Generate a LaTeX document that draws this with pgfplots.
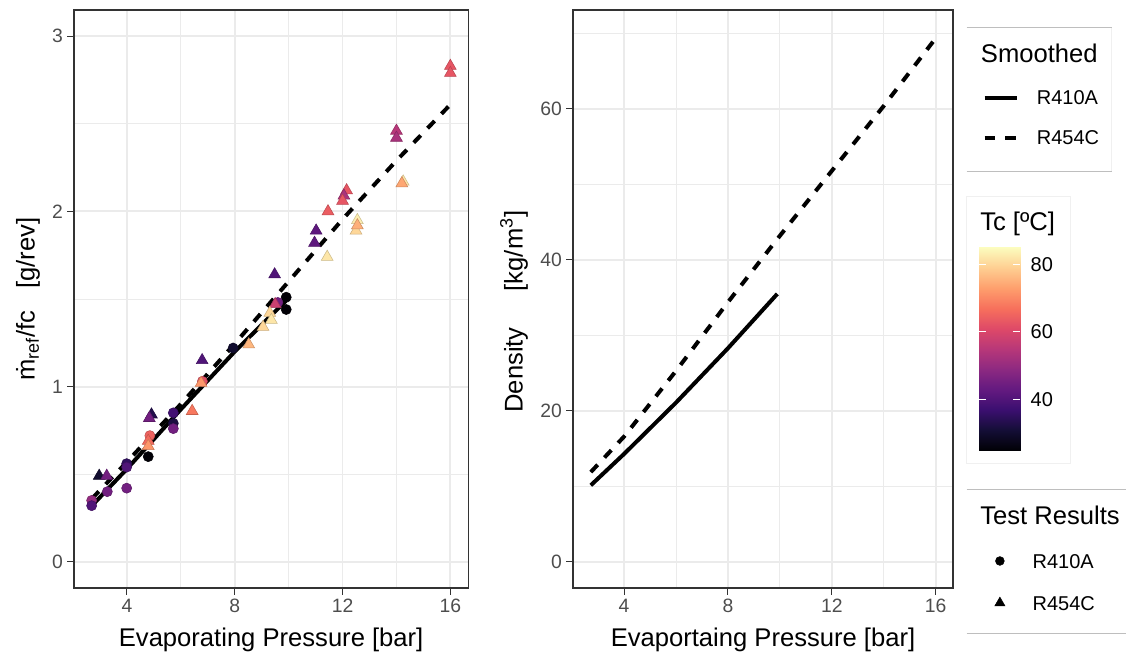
\documentclass[border=0pt]{standalone}
\usepackage{pgfplots}
\pgfplotsset{compat=1.18}
\usepackage{fontspec}
\setmainfont{Liberation Sans}
\definecolor{gridc}{RGB}{235,235,235}
\definecolor{gray20}{RGB}{51,51,51}
\definecolor{gray30}{RGB}{77,77,77}
\definecolor{boxc}{RGB}{240,240,240}
\definecolor{sepc}{RGB}{190,190,190}
\pgfplotsset{
  colormap={magma}{rgb255=(0,0,4) rgb255=(20,14,54) rgb255=(59,15,112) rgb255=(100,26,128) rgb255=(140,41,129) rgb255=(183,55,121) rgb255=(222,73,104) rgb255=(247,112,92) rgb255=(254,159,109) rgb255=(254,207,146) rgb255=(252,253,191)},
  ggpanel/.style={
    scale only axis, height=433.5pt,
    xmin=2.035, xmax=16.665,
    xtick={4,8,12,16}, minor xtick={2,6,10,14},
    grid=both,
    major grid style={gridc, line width=1.4pt},
    minor grid style={gridc, line width=0.7pt},
    axis line style={gray20, line width=0.8pt},
    tick style={gray20, line width=0.8pt},
    major tick length=4.9pt, minor tick length=0pt,
    tick align=outside, tick pos=left,
    ticklabel style={font=\fontsize{14.5}{17}\selectfont, text=gray30},
    /pgf/number format/assume math mode=true,
    label style={font=\fontsize{19.2}{23}\selectfont},
    xlabel style={at={(axis description cs:0.5,-0.09)}, anchor=center},
    colormap name=magma,
    point meta min=24.8, point meta max=85,
  }
}
\pgfplotstableread{
x y tc
9.91 1.51 25
9.91 1.44 25
9.60 1.48 45
7.94 1.22 30
6.80 1.03 62
5.72 0.85 38
5.72 0.79 32
5.72 0.76 45
4.85 0.72 65
4.79 0.60 25
3.99 0.56 35
3.99 0.54 40
3.99 0.42 45
3.27 0.40 45
2.69 0.35 50
2.69 0.32 40
}\circdata
\pgfplotstableread{
x y tc
16.00 2.83 63
16.00 2.79 63
14.00 2.46 55
14.00 2.42 53
14.25 2.17 82
14.20 2.16 74
12.15 2.12 63
12.05 2.09 53
12.00 2.06 63
11.46 2.00 64
11.02 1.89 42
10.96 1.82 42
11.43 1.74 82
12.55 1.95 83
12.50 1.89 80
12.55 1.92 75
9.48 1.64 40
9.50 1.47 58
9.30 1.42 80
9.36 1.38 82
9.05 1.34 80
8.52 1.24 76
6.79 1.15 40
6.75 1.02 72
6.42 0.86 68
4.91 0.84 33
4.83 0.82 45
4.79 0.69 66
4.79 0.66 72
2.97 0.49 30
3.25 0.49 45
}\tridata
\begin{document}
\begin{tikzpicture}
\useasboundingbox (0,0) rectangle (844.5pt,491.25pt);
% ---------- left panel ----------
\begin{axis}[ggpanel,
  at={(55.5pt,50.25pt)}, anchor=south west, width=295.7pt,
  ymin=-0.15, ymax=3.15,
  ytick={0,1,2,3}, minor ytick={0.5,1.5,2.5},
  xlabel={Evaporating Pressure [bar]},
  ylabel={ṁ\textsubscript{ref}/fc\hspace{16.5pt}[g/rev]},
  ylabel style={at={(axis description cs:-0.1167,0.5)}, anchor=center},
  legend style={at={(axis description cs:2.3355,0.0104)}, anchor=west, draw=none, fill=none,
    inner sep=0pt, outer sep=0pt, row sep=20.5pt, column sep=20.7pt,
    font=\fontsize{15}{18}\selectfont,
    nodes={inner sep=0pt, text height=11pt, text depth=0pt}},
  legend cell align=left,
  legend image code/.code={\draw[#1] plot coordinates {(0pt,0pt)};},
]
\addplot[scatter, only marks, mark=*, mark size=3.8pt, scatter src=explicit, forget plot]
  table[x=x, y=y, meta=tc] {\circdata};
\addplot[scatter, only marks, mark=triangle*, mark size=5.1pt, scatter src=explicit, forget plot]
  table[x=x, y=y, meta=tc] {\tridata};
\addplot[black, line width=3pt, forget plot] coordinates {
  (2.7,0.32) (4,0.53) (6,0.87) (8,1.20) (9.9,1.49)};
\addplot[black, line width=3pt, dash pattern=on 7.5pt off 7.5pt, forget plot] coordinates {
  (2.7,0.36) (4,0.57) (6,0.90) (8,1.245) (10,1.60) (12,1.955) (14,2.29) (16,2.61)};
\addlegendimage{only marks, mark=*, mark size=3.3pt, black}
\addlegendentry{R410A}
\addlegendimage{only marks, mark=triangle*, mark size=4.4pt, black}
\addlegendentry{R454C}
\end{axis}
% ---------- right panel ----------
\begin{axis}[ggpanel,
  at={(429.75pt,50.25pt)}, anchor=south west, width=285pt,
  ymin=-3.45, ymax=73.1,
  ytick={0,20,40,60}, minor ytick={10,30,50,70},
  xlabel={Evaportaing Pressure [bar]},
  ylabel={Density\hspace{27pt}[kg/m\textsuperscript{3}]},
  ylabel style={at={(axis description cs:-0.155,0.478)}, anchor=center},
  legend style={at={(axis description cs:1.0782,0.8137)}, anchor=west, draw=none, fill=none,
    inner sep=0pt, outer sep=0pt, row sep=19pt, column sep=13.3pt,
    font=\fontsize{15}{18}\selectfont,
    nodes={inner sep=0pt, text height=11pt, text depth=0pt}},
  legend cell align=left,
  legend image code/.code={\draw[#1] (0pt,0pt) -- (24.3pt,0pt);},
]
\addplot[black, line width=3pt, forget plot] coordinates {
  (2.72,10.15) (4,14.3) (6,21.1) (8,28.3) (9.9,35.5)};
\addplot[black, line width=3pt, dash pattern=on 7.5pt off 7.5pt, forget plot] coordinates {
  (2.72,11.9) (4,16.6) (6,25.3) (8,34.4) (10,43.2) (12,51.8) (14,60.4) (15.94,69.1)};
\addlegendimage{black, line width=3pt}
\addlegendentry{R410A}
\addlegendimage{black, line width=3pt, dash pattern=on 8pt off 7.5pt}
\addlegendentry{R454C}
\end{axis}
% ---------- colour bar ----------
\begin{axis}[
  at={(734.25pt,153.2pt)}, anchor=south west, scale only axis,
  width=30.75pt, height=152.55pt,
  xmin=0, xmax=1, ymin=24.8, ymax=85,
  xtick=\empty, ytick={40,60,80},
  axis line style={draw=none},
  tick style={white, line width=0.9pt},
  major tick length=5pt, tick align=inside,
  ytick pos=both, yticklabel pos=right,
  yticklabel style={anchor=west, xshift=4.5pt, font=\fontsize{15}{18}\selectfont, text=black},
  /pgf/number format/assume math mode=true,
  axis on top,
  colormap name=magma, point meta min=24.8, point meta max=85,
]
\addplot[surf, shader=interp, point meta=y, mesh/cols=2] coordinates {
  (0,24.8) (1,24.8) (0,30) (1,30) (0,35) (1,35) (0,40) (1,40) (0,45) (1,45)
  (0,50) (1,50) (0,55) (1,55) (0,60) (1,60) (0,65) (1,65) (0,70) (1,70)
  (0,75) (1,75) (0,80) (1,80) (0,85) (1,85)};
\end{axis}
% ---------- legend decorations ----------
\draw[boxc, line width=0.6pt] (725.0pt,143.8pt) rectangle (802.5pt,343.7pt);
\draw[boxc, line width=0.6pt] (833.8pt,362.5pt) -- (833.8pt,470.8pt);
\draw[sepc, line width=0.8pt] (725.0pt,470.8pt) -- (833.8pt,470.8pt);
\draw[sepc, line width=0.8pt] (725.0pt,362.5pt) -- (833.8pt,362.5pt);
\draw[sepc, line width=0.8pt] (725.0pt,124.3pt) -- (844.5pt,124.3pt);
\draw[sepc, line width=0.8pt] (725.0pt,16.3pt) -- (844.5pt,16.3pt);
\node[anchor=west, inner sep=0pt, font=\fontsize{19.2}{23}\selectfont] at (735.5pt,451.5pt) {Smoothed};
\node[anchor=west, inner sep=0pt, font=\fontsize{19.2}{23}\selectfont] at (735pt,323.0pt) {Tc [ºC]};
\node[anchor=west, inner sep=0pt, font=\fontsize{19.2}{23}\selectfont] at (735pt,105pt) {Test Results};
\end{tikzpicture}
\end{document}
